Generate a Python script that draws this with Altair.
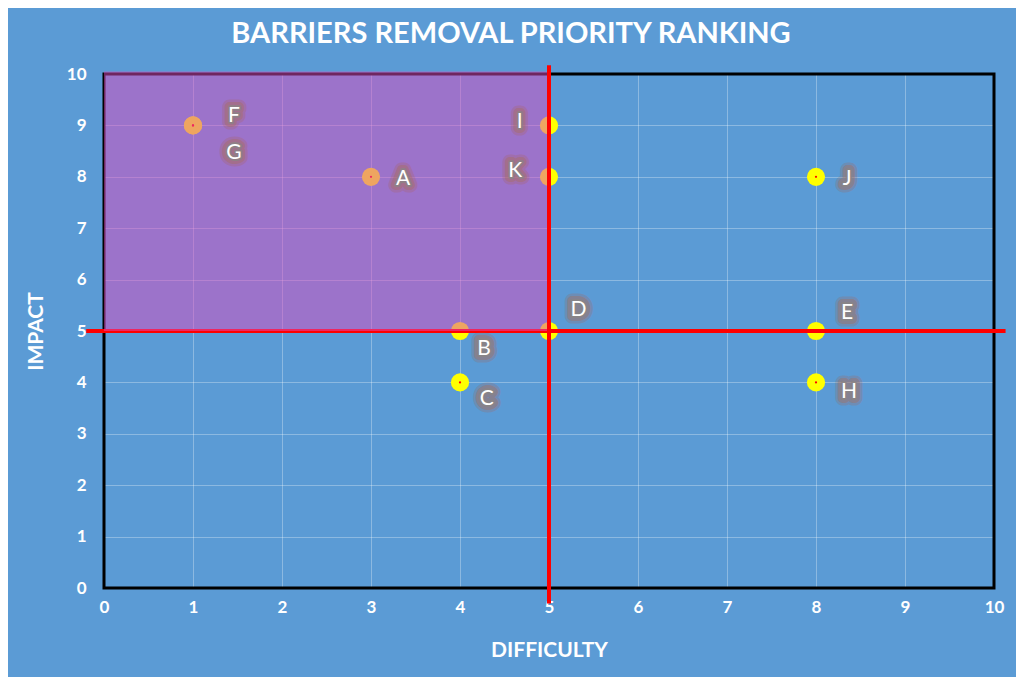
import altair as alt
import pandas as pd

names = ["A", "B", "C", "D", "E", "F", "G", "H", "I", "J", "K"]
difficulty = [3, 4, 4, 5, 8, 1, 1, 8, 5, 8, 5]
impact = [8, 5, 4, 5, 5, 9, 9, 4, 9, 8, 8]
label_x = [3.36, 4.27, 4.30, 5.33, 8.35, 1.46, 1.46, 8.37, 4.67, 8.35, 4.62]
label_y = [7.96, 4.65, 3.68, 5.41, 5.35, 9.18, 8.46, 3.81, 9.07, 7.96, 8.11]

ticks = list(range(0, 11))

BG = "#5B9BD5"

df = pd.DataFrame({"name": names, "difficulty": difficulty, "impact": impact,
                   "lx": label_x, "ly": label_y})

xs = alt.Scale(domain=[0, 10], nice=False, zero=False)
ys = alt.Scale(domain=[0, 10], nice=False, zero=False)

xax = alt.Axis(title="DIFFICULTY", values=ticks, format="d", grid=True, gridColor="white", gridOpacity=0.3,
               domain=False, ticks=False, labelFlush=False, labelColor="white", labelFont="Lato",
               labelFontWeight="bold", labelFontSize=17, labelPadding=11, titleColor="white",
               titleFont="Lato", titleFontWeight="bold", titleFontSize=21, titlePadding=24)
yax = alt.Axis(title="IMPACT", values=ticks, format="d", grid=True, gridColor="white", gridOpacity=0.3,
               domain=False, ticks=False, labelFlush=False, labelColor="white", labelFont="Lato",
               labelFontWeight="bold", labelFontSize=17, labelPadding=18, titleColor="white",
               titleFont="Lato", titleFontWeight="bold", titleFontSize=21, titlePadding=20)

base = alt.Chart(df)

# frame of the plot area
frame_df = pd.DataFrame({"x0": [0], "x1": [10], "y0": [0], "y1": [10]})
frame = alt.Chart(frame_df).mark_rect(fill=None, stroke="black", strokeWidth=3).encode(
    x=alt.X("x0:Q", scale=xs, axis=xax), x2="x1:Q",
    y=alt.Y("y0:Q", scale=ys, axis=yax), y2="y1:Q")

points = base.mark_circle(color="#FFFF00", opacity=1, size=330).encode(
    x=alt.X("difficulty:Q", scale=xs), y=alt.Y("impact:Q", scale=ys))
dots = base.mark_circle(color="#FF0000", opacity=1, size=5).encode(
    x=alt.X("difficulty:Q", scale=xs), y=alt.Y("impact:Q", scale=ys))

hline_df = pd.DataFrame({"x0": [-0.2], "x1": [10.13], "y": [5]})
hline = alt.Chart(hline_df).mark_rule(color="#FF0000", strokeWidth=4).encode(
    x=alt.X("x0:Q", scale=xs), x2="x1:Q", y=alt.Y("y:Q", scale=ys))

quad_df = pd.DataFrame({"x0": [0], "x1": [5], "y0": [5], "y1": [10.05]})
quad = alt.Chart(quad_df).mark_rect(color="#DE4CC0", opacity=0.5).encode(
    x=alt.X("x0:Q", scale=xs), x2="x1:Q", y=alt.Y("y0:Q", scale=ys), y2="y1:Q")

vline_df = pd.DataFrame({"x": [5], "y0": [-0.3], "y1": [10.17]})
vline = alt.Chart(vline_df).mark_rule(color="#FF0000", strokeWidth=4).encode(
    x=alt.X("x:Q", scale=xs), y=alt.Y("y0:Q", scale=ys), y2="y1:Q")

def lab(**kw):
    return base.mark_text(font="Lato", fontSize=21, align="center", baseline="middle",
                          strokeJoin="round", **kw).encode(
        x=alt.X("lx:Q", scale=xs), y=alt.Y("ly:Q", scale=ys), text="name:N")

glow1 = lab(fill="#B0604A", stroke="#B0604A", strokeWidth=15, opacity=0.22)
glow2 = lab(fill="#A8705E", stroke="#A8705E", strokeWidth=10, opacity=0.4)
glow3 = lab(fill="#9A8080", stroke="#8A8585", strokeWidth=4, opacity=0.75)
text = lab(fill="white")

chart = alt.layer(frame, points, dots, hline, quad, vline, glow1, glow2, glow3, text).properties(
    width=890, height=514,
    background=BG,
    autosize=alt.AutoSizeParams(type="none"),
    padding={"left": 96, "top": 66, "right": 22, "bottom": 89},
    title=alt.TitleParams("BARRIERS REMOVAL PRIORITY RANKING", color="white", font="Lato",
                          fontWeight="bold", fontSize=29, anchor="middle", offset=14, dx=-38),
).configure_view(stroke=None)

chart.save("out.html", embed_options={"renderer": "svg", "actions": False})
